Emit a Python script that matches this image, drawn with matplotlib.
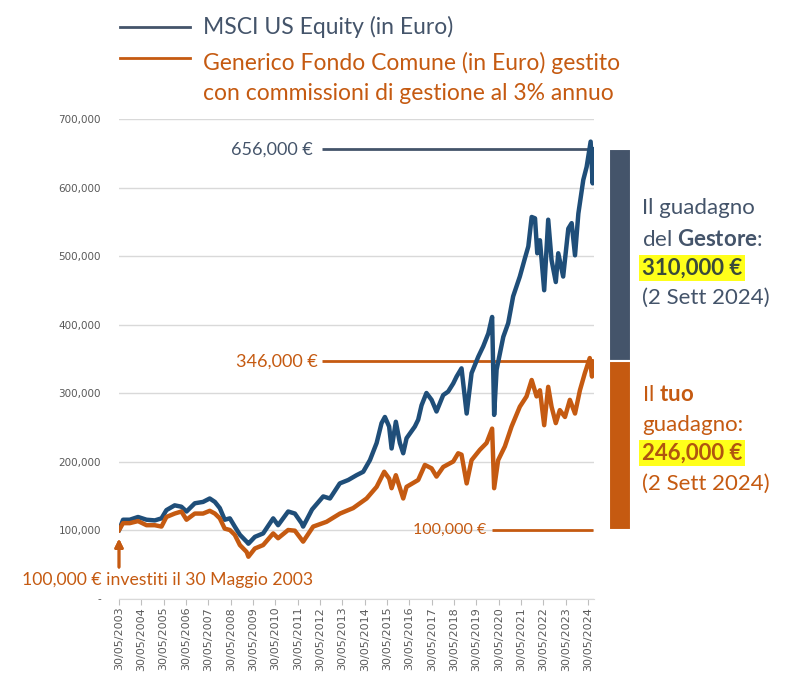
import matplotlib
matplotlib.use("Agg")
import matplotlib.pyplot as plt
from matplotlib.lines import Line2D
from matplotlib.ticker import FuncFormatter

# values (decimal years, thousands of euro)
msci_years = [2003.41, 2003.44, 2003.59, 2003.89, 2004.26, 2004.64, 2005.01, 2005.31, 2005.53, 2005.90,
              2006.20, 2006.43, 2006.80, 2007.17, 2007.47, 2007.70, 2007.92, 2008.14, 2008.37, 2008.59,
              2008.82, 2009.12, 2009.20, 2009.49, 2009.86, 2010.31, 2010.53, 2010.98, 2011.28, 2011.58,
              2011.65, 2012.05, 2012.55, 2012.85, 2013.29, 2013.67, 2014.04, 2014.34, 2014.64, 2014.94,
              2015.16, 2015.31, 2015.50, 2015.61, 2015.80, 2015.98, 2016.13, 2016.28, 2016.65, 2016.80,
              2016.95, 2017.17, 2017.40, 2017.62, 2017.92, 2018.14, 2018.37, 2018.52, 2018.74, 2018.97,
              2019.19, 2019.49, 2019.71, 2019.94, 2020.11, 2020.20, 2020.31, 2020.61, 2020.83, 2021.05,
              2021.35, 2021.58, 2021.73, 2021.88, 2022.03, 2022.13, 2022.25, 2022.44, 2022.62, 2022.77,
              2022.96, 2023.07, 2023.29, 2023.52, 2023.67, 2023.82, 2023.97, 2024.19, 2024.34, 2024.52,
              2024.61, 2024.66]
msci_values = [100, 102, 115, 115, 119, 115, 114, 117, 129, 136,
               134, 127, 139, 141, 146, 141, 132, 115, 117, 105,
               93, 83, 80, 90, 95, 117, 107, 127, 124, 110,
               105, 130, 149, 146, 168, 173, 180, 185, 202, 227,
               256, 265, 251, 219, 258, 227, 212, 234, 251, 261,
               282, 300, 290, 273, 297, 302, 314, 324, 336, 270,
               329, 353, 368, 387, 411, 268, 334, 382, 402, 441,
               470, 497, 514, 557, 555, 504, 523, 450, 553, 494,
               462, 504, 470, 540, 548, 501, 562, 611, 630, 667,
               606, 656]

fund_years = [2003.41, 2003.59, 2003.89, 2004.26, 2004.64, 2005.01, 2005.31, 2005.53, 2005.90, 2006.20,
              2006.43, 2006.80, 2007.17, 2007.47, 2007.70, 2007.92, 2008.14, 2008.37, 2008.59, 2008.82,
              2009.12, 2009.20, 2009.49, 2009.86, 2010.31, 2010.53, 2010.98, 2011.28, 2011.65, 2012.10,
              2012.70, 2013.30, 2013.89, 2014.49, 2014.94, 2015.28, 2015.50, 2015.61, 2015.80, 2016.13,
              2016.28, 2016.80, 2017.10, 2017.40, 2017.62, 2017.92, 2018.37, 2018.59, 2018.74, 2018.97,
              2019.19, 2019.56, 2019.86, 2020.11, 2020.20, 2020.38, 2020.68, 2020.98, 2021.35, 2021.65,
              2021.88, 2022.10, 2022.25, 2022.44, 2022.62, 2022.77, 2022.96, 2023.14, 2023.37, 2023.59,
              2023.82, 2024.04, 2024.26, 2024.48, 2024.58, 2024.66]
fund_values = [100, 110, 110, 113, 107, 107, 105, 119, 124, 127,
               115, 124, 124, 128, 124, 117, 102, 100, 93, 78,
               68, 61, 73, 78, 95, 88, 100, 99, 83, 105,
               112, 124, 132, 146, 163, 185, 175, 161, 180, 146,
               163, 173, 195, 190, 178, 192, 200, 212, 210, 168,
               202, 217, 227, 248, 161, 202, 222, 251, 280, 295,
               319, 295, 304, 253, 309, 280, 256, 275, 265, 290,
               270, 304, 329, 351, 324, 346]

tick_years = list(range(2003, 2025))
tick_labels = ["30/05/%d" % y for y in tick_years]
y_ticks = [0, 100000, 200000, 300000, 400000, 500000, 600000, 700000]

start_value = 100000
final_msci = 656000
final_fund = 346000

W, H = 790, 688
BLUE = "#1F4E79"
SLATE = "#44546A"
ORANGE = "#C55A11"
GRID = "#D9D9D9"
TICK = "#595959"

plt.rcParams["font.family"] = ["Lato", "DejaVu Sans"]
plt.rcParams["mathtext.fontset"] = "custom"
plt.rcParams["mathtext.rm"] = "Lato"
plt.rcParams["mathtext.bf"] = "Lato:bold"


def fx(px):
    return px / W


def fy(py):
    return 1 - py / H


fig = plt.figure(figsize=(W / 100, H / 100), dpi=100)
ax = fig.add_axes([fx(119), fy(598.5), (594 - 119) / W, (598.5 - 119) / H])

may30 = 149 / 365.25
ax.plot(msci_years, [v * 1000 for v in msci_values], color=BLUE, lw=3.2, solid_joinstyle="round", zorder=3)
ax.plot(fund_years, [v * 1000 for v in fund_values], color=ORANGE, lw=3.2, solid_joinstyle="round", zorder=4)

ax.set_xlim(tick_years[0] + may30, 2024.67)
ax.set_ylim(0, 700000)
ax.set_xticks([y + may30 for y in tick_years])
ax.set_xticklabels(tick_labels, rotation=90, fontsize=8, color=TICK, family="DejaVu Sans")
ax.set_yticks(y_ticks)
ax.yaxis.set_major_formatter(FuncFormatter(lambda v, p: "-" if v == 0 else "{:,.0f}".format(v)))
for lab in ax.get_yticklabels():
    lab.set_fontsize(7.5)
    lab.set_color(TICK)
    lab.set_family("DejaVu Sans")
ax.tick_params(axis="y", length=0, pad=13)
ax.tick_params(axis="x", length=4, color="#BFBFBF", pad=2)
ax.yaxis.grid(True, color=GRID, lw=1)
ax.set_axisbelow(True)
for s in ["top", "right", "left"]:
    ax.spines[s].set_visible(False)
ax.spines["bottom"].set_color(GRID)

# reference lines for final values
ax.hlines(final_msci, 2012.49, 2024.62, color=SLATE, lw=2, zorder=2)
ax.hlines(final_fund, 2012.49, 2024.62, color=ORANGE, lw=2, zorder=2)
ax.hlines(start_value, 2020.10, 2024.62, color=ORANGE, lw=2, zorder=2)
ax.text(2012.10, final_msci, "{:,.0f} €".format(final_msci), color=SLATE, fontsize=13, ha="right", va="center")
ax.text(2012.30, final_fund, "{:,.0f} €".format(final_fund), color=ORANGE, fontsize=13, ha="right", va="center")
ax.text(2019.84, start_value, "{:,.0f} €".format(start_value), color=ORANGE, fontsize=11.5, ha="right", va="center")

# gain bars to the right of the plot
ax.bar(2025.83, final_msci - final_fund, bottom=final_fund, width=0.99, color=SLATE,
       edgecolor="white", lw=1.5, clip_on=False)
ax.bar(2025.83, final_fund - start_value, bottom=start_value, width=0.99, color=ORANGE,
       edgecolor="white", lw=1.5, clip_on=False)

# start arrow and note
fig.add_artist(plt.annotate("", xy=(fx(119), fy(536)), xytext=(fx(119), fy(570)),
                            xycoords="figure fraction",
                            arrowprops=dict(arrowstyle="-|>", color=ORANGE, lw=2, mutation_scale=12)))
fig.text(fx(22), fy(580), "100,000 € investiti il 30 Maggio 2003", color=ORANGE, fontsize=12.7,
         ha="left", va="center")

# legend at the top
fig.add_artist(Line2D([fx(120), fx(190)], [fy(27), fy(27)], color=SLATE, lw=2))
fig.add_artist(Line2D([fx(120), fx(190)], [fy(58), fy(58)], color=ORANGE, lw=2))
fig.text(fx(203), fy(27), "MSCI US Equity (in Euro)", color=SLATE, fontsize=16.5, va="center")
fig.text(fx(203), fy(63), "Generico Fondo Comune (in Euro) gestito", color=ORANGE, fontsize=16.5, va="center")
fig.text(fx(203), fy(93), "con commissioni di gestione al 3% annuo", color=ORANGE, fontsize=16.5, va="center")

# side notes
hl = dict(facecolor="#FFFF1A", edgecolor="none", pad=2)
fig.text(fx(642), fy(208), "Il guadagno", color=SLATE, fontsize=16, va="center")
fig.text(fx(642), fy(239), r"del $\mathbf{Gestore}$:", color=SLATE, fontsize=16, va="center")
fig.text(fx(642), fy(268), "{:,.0f} €".format(final_msci - final_fund), color="#3A4A3A", fontsize=16,
         fontweight="bold", va="center", bbox=hl)
fig.text(fx(642), fy(298), "(2 Sett 2024)", color=SLATE, fontsize=16, va="center")

fig.text(fx(642), fy(395), r"Il $\mathbf{tuo}$", color=ORANGE, fontsize=16, va="center")
fig.text(fx(642), fy(425), "guadagno:", color=ORANGE, fontsize=16, va="center")
fig.text(fx(642), fy(453), "{:,.0f} €".format(final_fund - start_value), color="#B0550F", fontsize=16,
         fontweight="bold", va="center", bbox=hl)
fig.text(fx(642), fy(484), "(2 Sett 2024)", color=ORANGE, fontsize=16, va="center")

fig.savefig("out.png", dpi=100)
